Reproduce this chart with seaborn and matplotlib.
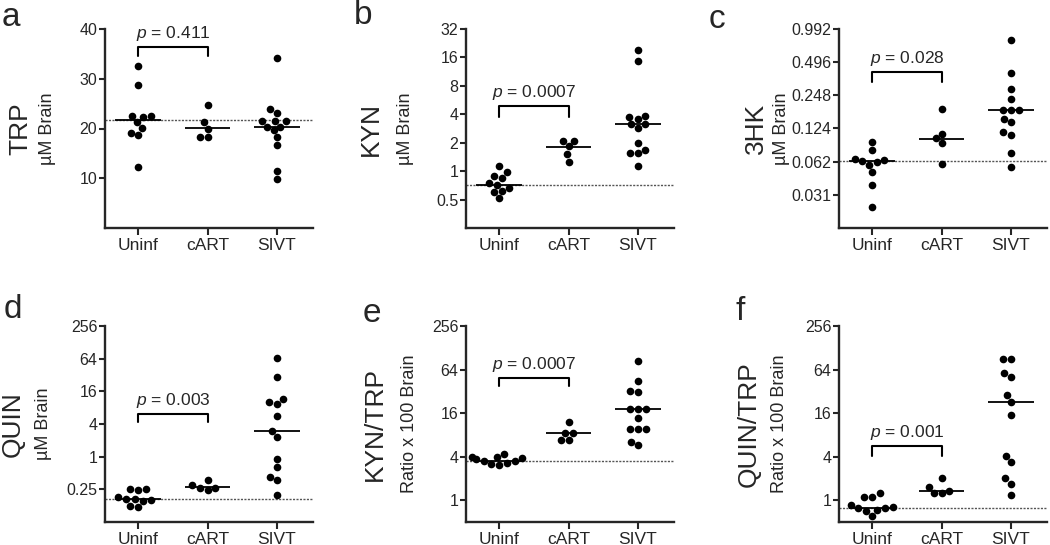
import numpy as np
import pandas as pd
import matplotlib
matplotlib.use("Agg")
import matplotlib.pyplot as plt
import seaborn as sns

sns.set_style("ticks")
plt.rcParams["font.family"] = ["Liberation Sans", "DejaVu Sans"]
plt.rcParams["mathtext.fontset"] = "custom"
plt.rcParams["mathtext.rm"] = "Liberation Sans"
plt.rcParams["mathtext.it"] = "Liberation Sans:italic"

groups = ["Uninf", "cART", "SIVT"]

# a - TRP (uM brain)
trp_uninf = [32.6, 28.7, 22.6, 22.6, 22.3, 21.3, 20.1, 19.1, 18.7, 12.2]
trp_cart = [24.8, 21.3, 19.9, 18.2, 18.2]
trp_sivt = [34.1, 23.9, 23.2, 21.6, 21.6, 21.6, 20.4, 20.4, 19.6, 18.2, 16.6, 11.5, 9.9]
trp_medians = [21.8, 20.1, 20.3]

# b - KYN (uM brain)
kyn_uninf = [1.13, 0.97, 0.88, 0.84, 0.75, 0.72, 0.66, 0.62, 0.60, 0.52]
kyn_cart = [2.10, 2.10, 1.83, 1.51, 1.26]
kyn_sivt = [19.1, 14.6, 3.86, 3.74, 3.56, 3.13, 3.13, 2.85, 1.98, 1.67, 1.54, 1.54, 1.13]
kyn_medians = [0.72, 1.78, 3.13]

# c - 3HK (uM brain)
hk_uninf = [0.094, 0.079, 0.065, 0.064, 0.063, 0.062, 0.058, 0.050, 0.038, 0.024]
hk_cart = [0.185, 0.110, 0.101, 0.091, 0.059]
hk_sivt = [0.792, 0.399, 0.281, 0.228, 0.183, 0.183, 0.183, 0.152, 0.143, 0.115, 0.109, 0.074, 0.055]
hk_medians = [0.0634, 0.099, 0.183]

# d - QUIN (uM brain)
quin_uninf = [0.25, 0.25, 0.24, 0.18, 0.165, 0.165, 0.16, 0.155, 0.125, 0.12]
quin_cart = [0.374, 0.30, 0.27, 0.265, 0.245]
quin_sivt = [66, 30, 11.6, 10.3, 9.5, 5.6, 3.03, 2.32, 0.91, 0.65, 0.42, 0.37, 0.20]
quin_medians = [0.165, 0.28, 3.03]

# e - KYN/TRP ratio x 100
kt_uninf = [4.4, 4.0, 3.9, 3.8, 3.7, 3.5, 3.45, 3.3, 3.2, 3.1]
kt_cart = [11.9, 8.6, 8.6, 6.9, 6.9]
kt_sivt = [84, 44, 32, 31, 18.5, 18.5, 18.5, 13.5, 9.5, 9.5, 9.5, 6.4, 5.8]
kt_medians = [3.48, 8.6, 18.5]

# f - QUIN/TRP ratio x 100
qt_uninf = [1.24, 1.12, 1.12, 0.85, 0.80, 0.77, 0.77, 0.74, 0.71, 0.61]
qt_cart = [2.0, 1.53, 1.33, 1.26, 1.24]
qt_sivt = [88.6, 88.6, 56.6, 51, 28.5, 22.9, 15, 4.1, 3.4, 2.0, 1.7, 1.17]
qt_medians = [0.77, 1.33, 22.9]

p_texts = ["0.411", "0.0007", "0.028", "0.003", "0.0007", "0.001"]
bracket_tops = [36.3, 4.86, 0.40, 6.1, 49, 5.6]
bracket_legs = [34.5, 3.74, 0.33, 4.4, 38, 4.1]

panels = [
    ("a", "TRP", "µM Brain", [trp_uninf, trp_cart, trp_sivt], trp_medians,
     None, (0, 40), [10, 20, 30, 40], ["10", "20", "30", "40"]),
    ("b", "KYN", "µM Brain", [kyn_uninf, kyn_cart, kyn_sivt], kyn_medians,
     2, (0.25, 32), [0.5, 1, 2, 4, 8, 16, 32], ["0.5", "1", "2", "4", "8", "16", "32"]),
    ("c", "3HK", "µM Brain", [hk_uninf, hk_cart, hk_sivt], hk_medians,
     2, (0.0155, 0.992), [0.031, 0.062, 0.124, 0.248, 0.496, 0.992],
     ["0.031", "0.062", "0.124", "0.248", "0.496", "0.992"]),
    ("d", "QUIN", "µM Brain", [quin_uninf, quin_cart, quin_sivt], quin_medians,
     2, (0.0625, 256), [0.25, 1, 4, 16, 64, 256], ["0.25", "1", "4", "16", "64", "256"]),
    ("e", "KYN/TRP", "Ratio x 100 Brain", [kt_uninf, kt_cart, kt_sivt], kt_medians,
     2, (0.5, 256), [1, 4, 16, 64, 256], ["1", "4", "16", "64", "256"]),
    ("f", "QUIN/TRP", "Ratio x 100 Brain", [qt_uninf, qt_cart, qt_sivt], qt_medians,
     2, (0.5, 256), [1, 4, 16, 64, 256], ["1", "4", "16", "64", "256"]),
]

W, H = 1050, 545
fig = plt.figure(figsize=(W / 100, H / 100), dpi=100)

# layout in pixels
col_left = [105, 466, 839]
row_box = [(29, 228), (326, 522)]
ax_w = 208
letter_pos = [(11, 18), (363, 15), (717, 19), (13, 310), (372, 313), (740, 312)]
main_lab_x = [20, 371, 756, 13, 375, 749]
sub_lab_x = [48, 406, 781, 44, 409, 780]

for i, (letter, main_lab, sub_lab, data, meds, logb, ylim, yticks, yticklabels) in enumerate(panels):
    r, c = divmod(i, 3)
    top, bot = row_box[r]
    ax = fig.add_axes([col_left[c] / W, 1 - bot / H, ax_w / W, (bot - top) / H])

    df = pd.DataFrame({
        "group": np.repeat(groups, [len(d) for d in data]),
        "value": np.concatenate(data),
    })
    sns.swarmplot(data=df, x="group", y="value", order=groups, color="black",
                  size=5.5, linewidth=0, ax=ax, log_scale=logb, zorder=3)

    xs = np.arange(3)
    ax.hlines(meds, xs - 0.33, xs + 0.33, color="black", lw=1.3, zorder=4)
    ax.axhline(meds[0], color="#555555", lw=1.0, ls=(0, (1.5, 1)), zorder=1)

    # bracket + p value
    ax.plot([0, 0, 1, 1], [bracket_legs[i], bracket_tops[i], bracket_tops[i], bracket_legs[i]],
            color="black", lw=1.5, clip_on=False)
    ax.annotate(r"$p$ = " + p_texts[i], xy=(0.5, bracket_tops[i]), xytext=(0, 3),
                textcoords="offset points", ha="center", va="bottom", fontsize=12.5)

    ax.set_xlim(-0.48, 2.52)
    ax.set_ylim(*ylim)
    ax.set_yticks(yticks)
    ax.set_yticklabels(yticklabels)
    ax.yaxis.set_minor_locator(matplotlib.ticker.NullLocator())
    ax.set_xlabel("")
    ax.set_ylabel("")
    sns.despine(ax=ax)
    for s in ["left", "bottom"]:
        ax.spines[s].set_linewidth(1.7)
    ax.tick_params(axis="y", labelsize=11.5, length=4, width=1.5, pad=1.5)
    ax.tick_params(axis="x", labelsize=12.5, length=5, width=1.5, pad=2)

    ymid = 1 - (top + bot) / 2 / H
    fig.text(main_lab_x[i] / W, ymid, main_lab, rotation=90, fontsize=19,
             ha="center", va="center")
    fig.text(sub_lab_x[i] / W, ymid, sub_lab, rotation=90, fontsize=13,
             ha="center", va="center")
    lx, ly = letter_pos[i]
    fig.text(lx / W, 1 - ly / H, letter, fontsize=24, ha="center", va="center")

fig.savefig("out.png", dpi=100)
